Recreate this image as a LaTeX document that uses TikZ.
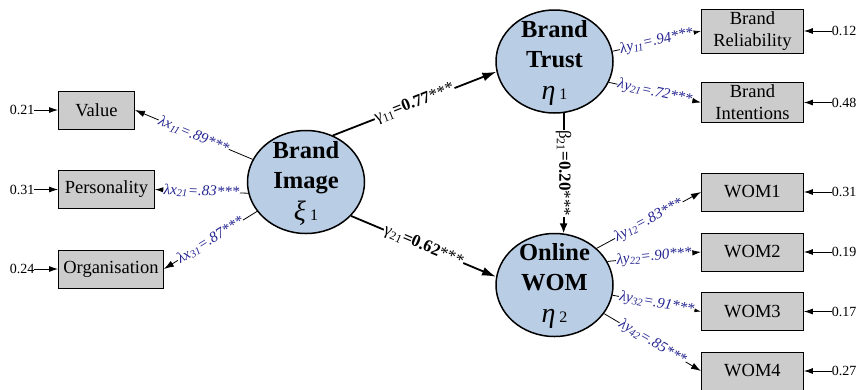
\documentclass[tikz,border=0pt]{standalone}
\usepackage{fontspec}
\setmainfont{Liberation Serif}
\usetikzlibrary{arrows.meta, positioning, shapes.geometric}
\definecolor{latentblue}{RGB}{185,205,229}
\definecolor{boxgray}{RGB}{204,204,204}
\definecolor{loadblue}{RGB}{35,35,145}
\NewDocumentCommand{\ld}{mmm}{\textit{λ#1\textsubscript{#2}=#3***}}
\NewDocumentCommand{\pth}{mmm}{#1\textsubscript{#2}\textbf{=#3}***}
\NewDocumentCommand{\latsym}{mm}{{\fontsize{28}{30}\selectfont\mdseries\itshape #1}\,{\fontsize{16}{30}\selectfont\mdseries #2}}

\begin{document}
\begin{tikzpicture}[x=1pt,y=-1pt,>={Latex[length=10pt,width=6.5pt]},
        latent/.style={ellipse,draw,line width=1.5pt,fill=latentblue,minimum width=117pt,minimum height=103pt,inner sep=0pt},
        lattext/.style={align=center,font=\fontsize{24.5}{30}\selectfont\bfseries},
        indicator/.style={draw,line width=0.9pt,fill=boxgray,minimum width=102pt,minimum height=38pt,inner sep=0pt,align=center,font=\fontsize{18.5}{22}\selectfont},
        err/.style={inner sep=0pt,font=\fontsize{14}{16}\selectfont},
        errarrow/.style={-{Latex[length=9pt,width=6pt]},line width=0.8pt},
        load/.style={->,line width=0.8pt},
        loadlabel/.style={sloped,pos=0.5,fill=white,inner sep=0.5pt,text=loadblue,font=\fontsize{15}{17}\selectfont},
        struct/.style={-{Latex[length=14pt,width=9pt]},line width=1.8pt},
        structlabel/.style={pos=0.5,fill=white,inner sep=0.5pt,font=\fontsize{17}{19}\selectfont}]
    \useasboundingbox (0,0) rectangle (859,389);

      % latent variables
      \node[latent] (img)   at (306,182)   {};
      \node[latent] (trust) at (554.5,61.5) {};
      \node[latent] (wom)   at (554.5,285) {};
      \node[lattext] (imgtext)   at ([yshift=-1pt]img)   {Brand\\Image\\[2pt]\latsym{ξ}{1}};
      \node[lattext] (trusttext) at ([yshift=-1pt]trust) {Brand\\Trust\\[2pt]\latsym{η}{1}};
      \node[lattext] (womtext)   at ([yshift=-1pt]wom)   {Online\\WOM\\[2pt]\latsym{η}{2}};

      % indicators
      \node[indicator,anchor=west,minimum width=76pt]  (value) at (58,110)   {Value};
      \node[indicator,anchor=west,minimum width=96pt]  (pers)  at (58,189.5) {Personality};
      \node[indicator,anchor=west,minimum width=105pt] (org)   at (58,269)   {Organisation};
      \node[indicator,anchor=west,minimum height=44pt] (rel)    at (701,31)    {Brand\\Reliability};
      \node[indicator,anchor=west,minimum height=40pt] (intent) at (701,102.5) {Brand\\Intentions};
      \node[indicator,anchor=west] (wom1) at (701,192)   {WOM1};
      \node[indicator,anchor=west] (wom2) at (701,252)   {WOM2};
      \node[indicator,anchor=west] (wom3) at (701,311.5) {WOM3};
      \node[indicator,anchor=west] (wom4) at (701,371)   {WOM4};

      % error terms
      \node[err] (e1) at (22,110)   {0.21};
      \node[err] (e2) at (22,189.5) {0.31};
      \node[err] (e3) at (22,269)   {0.24};
      \node[err] (e4) at (844,31)    {0.12};
      \node[err] (e5) at (844,102.5) {0.48};
      \node[err] (e6) at (844,192)   {0.31};
      \node[err] (e7) at (844,252)   {0.19};
      \node[err] (e8) at (844,311.5) {0.17};
      \node[err] (e9) at (844,371)   {0.27};
      \draw[errarrow] (e1) -- (value);
      \draw[errarrow] (e2) -- (pers);
      \draw[errarrow] (e3) -- (org);
      \draw[errarrow] (e4) -- (rel);
      \draw[errarrow] (e5) -- (intent);
      \draw[errarrow] (e6) -- (wom1);
      \draw[errarrow] (e7) -- (wom2);
      \draw[errarrow] (e8) -- (wom3);
      \draw[errarrow] (e9) -- (wom4);

      % loadings
      \path[load] (img.157) edge node[loadlabel] {\ld{x}{11}{.89}} (value.east);
      \path[load] (img.191) edge node[loadlabel] {\ld{x}{21}{.83}} (pers.east);
      \path[load] (img.211) edge node[loadlabel] {\ld{x}{31}{.87}} (org.east);
      \path[load] (trust.10)  edge node[loadlabel] {\ld{y}{11}{.94}} (rel.west);
      \path[load] (trust.-21) edge node[loadlabel] {\ld{y}{21}{.72}} (intent.west);
      \path[load] (wom.41)  edge node[loadlabel] {\ld{y}{12}{.83}} (wom1.west);
      \path[load] (wom.24)  edge node[loadlabel] {\ld{y}{22}{.90}} (wom2.west);
      \path[load] (wom.-10) edge node[loadlabel] {\ld{y}{32}{.91}} (wom3.west);
      \path[load] (wom.-30) edge node[loadlabel] {\ld{y}{42}{.85}} (wom4.west);

      % structural paths
      \path[struct] (img.60)  edge node[structlabel,sloped] {\pth{γ}{11}{0.77}} (trust.190);
      \path[struct] (img.-37) edge node[structlabel,sloped] {\pth{γ}{21}{0.62}} (wom.172);
      \path[-{Latex[length=10pt,width=8pt]},line width=1.8pt] (trust.-80) edge node[structlabel,rotate=-90] {\pth{β}{21}{0.20}} (wom.80);
    \end{tikzpicture}
\end{document}
